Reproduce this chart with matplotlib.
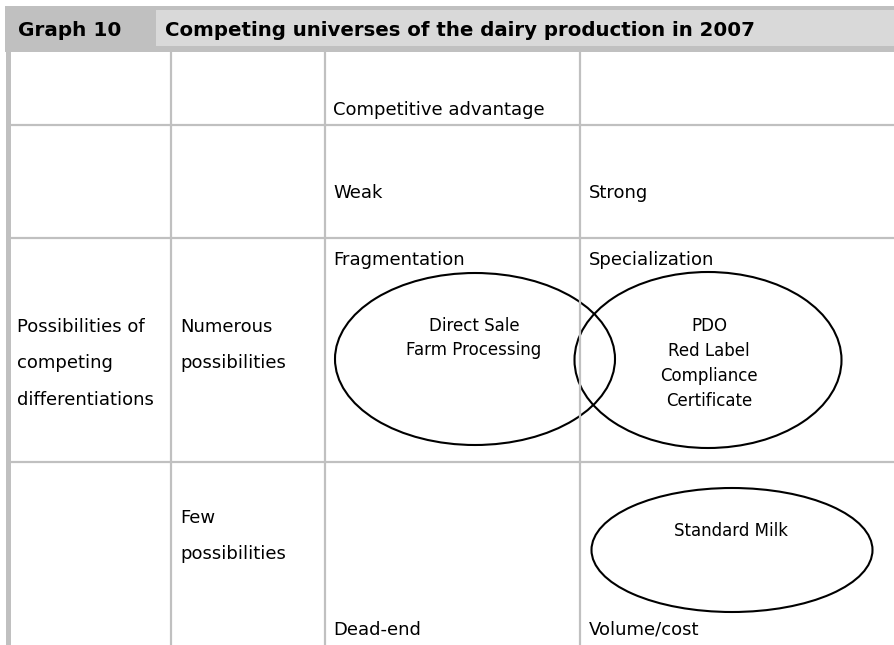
import matplotlib
matplotlib.use("Agg")
import matplotlib.pyplot as plt
from matplotlib.patches import Rectangle, Ellipse

W, H = 894, 645
GRID = "#c0c0c0"
LIGHT = "#d9d9d9"
NARROW = ["Liberation Sans Narrow", "DejaVu Sans Condensed", "DejaVu Sans"]

# table layout (pixel coordinates of the source graphic)
col_x = [171, 325, 580]
row_y = [125, 238, 462]

header_num = "Graph 10"
header_title = "Competing universes of the dairy production in 2007"

# cell labels: (x, y, text)
cell_labels = [
    (333, 110, "Competitive advantage"),
    (333, 193, "Weak"),
    (589, 193, "Strong"),
    (333, 260, "Fragmentation"),
    (589, 260, "Specialization"),
    (17, 327, "Possibilities of"),
    (17, 363, "competing"),
    (17, 400, "differentiations"),
    (180, 327, "Numerous"),
    (180, 363, "possibilities"),
    (180, 518, "Few"),
    (180, 554, "possibilities"),
    (333, 630, "Dead-end"),
    (589, 630, "Volume/cost"),
]

# ellipses: centre x, centre y, width, height
ellipses = [
    (475, 359, 280, 172),
    (708, 360, 267, 176),
    (732, 550, 281, 124),
]
# ellipse labels: (x, y, text)
ellipse_labels = [
    (474, 326, "Direct Sale"),
    (474, 350, "Farm Processing"),
    (709, 326, "PDO"),
    (709, 351, "Red Label"),
    (709, 376, "Compliance"),
    (709, 401, "Certificate"),
    (731, 531, "Standard Milk"),
]

fig = plt.figure(figsize=(W / 100, H / 100), dpi=100)
ax = fig.add_axes([0, 0, 1, 1])
ax.set_xlim(0, W)
ax.set_ylim(H, 0)
ax.axis("off")

# header band
ax.add_patch(Rectangle((5, 6), W - 5, 46, color=GRID, lw=0))
ax.add_patch(Rectangle((156, 10), W - 156, 36, color=LIGHT, lw=0))
ax.text(18, 30, header_num, fontsize=14.4, fontweight="bold",
        family="DejaVu Sans", va="center", ha="left")
ax.text(165, 30, header_title, fontsize=14.2, fontweight="bold",
        family="DejaVu Sans", va="center", ha="left")

# table grid
ax.add_patch(Rectangle((6, 52), 5, H - 52, color=GRID, lw=0))
for x in col_x:
    ax.plot([x, x], [52, H], color=GRID, lw=1.6, solid_capstyle="butt")
for y in row_y:
    ax.plot([11, W], [y, y], color=GRID, lw=1.6, solid_capstyle="butt")

for x, y, t in cell_labels:
    ax.text(x, y, t, fontsize=13, family=NARROW, va="center", ha="left")

for cx, cy, w, h in ellipses:
    ax.add_patch(Ellipse((cx, cy), w, h, fill=False, ec="black", lw=1.5))
for x, y, t in ellipse_labels:
    ax.text(x, y, t, fontsize=12, family=NARROW, va="center", ha="center")

fig.savefig("out.png", dpi=100)
